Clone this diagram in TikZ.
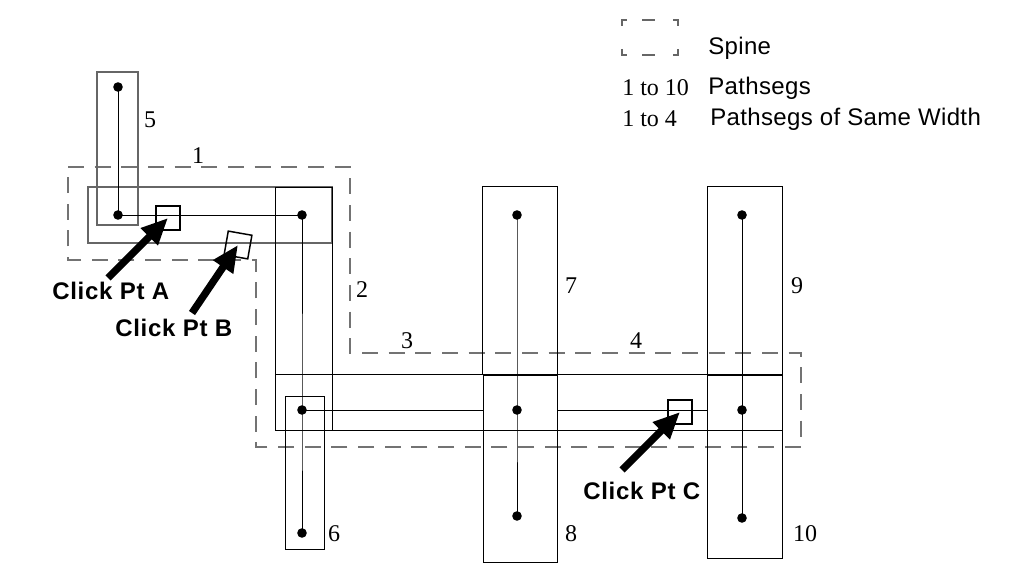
\documentclass[tikz,border=0pt]{standalone}
\usepackage{fontspec}
\setmainfont{Liberation Serif}
\setsansfont{Liberation Sans}
\newfontfamily\clickfont[LetterSpace=3]{Liberation Sans}
\newfontfamily\legfont[LetterSpace=1.5]{Liberation Sans}
\newfontfamily\numfont{Liberation Serif}
\usetikzlibrary{arrows.meta,fit}
\begin{document}
\begin{tikzpicture}[x=0.75pt,y=-0.75pt,
  box/.style={draw=black,line width=0.75pt,inner sep=0pt,outer sep=0pt},
  boxgray/.style={draw=black!60,line width=1pt,inner sep=0pt,outer sep=0pt},
  seg/.style={draw=black,line width=0.75pt},
  dot/.style={circle,fill=black,inner sep=0pt,minimum size=7.2pt},
  num/.style={font=\numfont\fontsize{18}{20}\selectfont,inner sep=0pt},
  spine/.style={draw=black!55,line width=1.1pt,dash pattern=on 12pt off 8pt},
  legdash/.style={draw=black!60,line width=1.1pt},
  clicksq/.style={draw,line width=1.1pt,minimum size=18pt,inner sep=0pt},
  clicktxt/.style={font=\clickfont\bfseries\fontsize{18}{20}\selectfont,inner sep=0pt,anchor=west},
  bigarrow/.style={line width=5.5pt,-{Triangle[length=20pt,width=17pt]}},
  legtxt/.style={font=\legfont\fontsize{18}{20}\selectfont,inner sep=0pt,anchor=west},
  legnum/.style={font=\numfont\fontsize{18}{20}\selectfont,inner sep=0pt,anchor=west}]

\useasboundingbox (0,0) rectangle (1013,574);

% spine
\draw[spine] (68,167) -- (350,167) -- (350,353) -- (801,353) -- (801,447)
  -- (256,447) -- (256,260) -- (68,260) -- cycle;

% pathseg rectangles
\node[boxgray, fit={(97,72) (138,225)}] (r5) {};
\node[boxgray, fit={(88,187) (332,243)}] (r1) {};
\node[box, fit={(275,187) (332,430)}] (r2) {};
\node[box, fit={(275,374) (782,430)}] (r34) {};
\node[box, fit={(285,396) (324,549)}] (r6) {};
\node[box, fit={(482,186) (557,374)}] (r7) {};
\node[box, fit={(483,375) (557,562)}] (r8) {};
\node[box, fit={(707,186) (782,374)}] (r9) {};
\node[box, fit={(707,375) (782,558)}] (r10) {};

% centre points
\node[dot] (p5a) at (118,87) {};
\node[dot] (p5b) at (118,215) {};
\node[dot] (p1b) at (302,215) {};
\node[dot] (p2b) at (302,410) {};
\node[dot] (p6b) at (302,533) {};
\node[dot] (p7a) at (517,215) {};
\node[dot] (p8a) at (517,410) {};
\node[dot] (p8b) at (517,516) {};
\node[dot] (p9a) at (742,215) {};
\node[dot] (p10a) at (742,410) {};
\node[dot] (p10b) at (742,518) {};

% centre lines
\draw[seg] (p5a.center) -- (p5b.center) -- (p1b.center) -- (p2b.center) -- (p6b.center);
\draw[seg] (p2b.center) -- (p2b -| r8.west);
\draw[seg] (p8a -| r8.east) -- (p8a -| r10.west);
\draw[seg] (p7a.center) -- (p8a.center) -- (p8b.center);
\draw[seg] (p9a.center) -- (p10a.center) -- (p10b.center);

% labels
\node[num] (l1) at (198,156) {1};
\node[num] (l2) at (362,290) {2};
\node[num] (l3) at (407,341) {3};
\node[num] (l4) at (636,341) {4};
\node[num] (l5) at (150,120) {5};
\node[num] (l6) at (334,534) {6};
\node[num] (l7) at (571,286) {7};
\node[num] (l8) at (571,534) {8};
\node[num] (l9) at (797,286) {9};
\node[num] (l10) at (805,534) {10};

% click squares
\node[clicksq] (ca) at (168,218) {};
\node[clicksq, rotate=-10] (cb) at (238,245) {};
\node[clicksq] (cc) at (680,412) {};

% click texts and arrows
\node[clicktxt] (ta) at (52,291) {Click Pt A};
\node[clicktxt] (tb) at (115,328) {Click Pt B};
\node[clicktxt] (tc) at (583,491) {Click Pt C};
\coordinate (tailA) at (108,278);
\coordinate (tailB) at (192,313);
\coordinate (tailC) at (622,470);
\draw[bigarrow] (tailA) -- (ca.center);
\draw[bigarrow] (tailB) -- (cb.center);
\draw[bigarrow] (tailC) -- (cc.center);

% legend
\draw[legdash] (622,26) -- (622,20) -- (627,20);
\draw[legdash] (642,20) -- (655,20);
\draw[legdash] (673,20) -- (678,20) -- (678,26);
\draw[legdash] (622,49) -- (622,55) -- (627,55);
\draw[legdash] (642,55) -- (655,55);
\draw[legdash] (673,55) -- (678,55) -- (678,49);
\node[legtxt] (lspine) at (708,48) {Spine};
\node[legnum] (ln1) at (622,88) {1 to 10};
\node[legtxt] (lps) at (708,88) {Pathsegs};
\node[legnum] (ln2) at (622,119) {1 to 4};
\node[legtxt] (lps2) at (710,119) {Pathsegs of Same Width};
\end{tikzpicture}
\end{document}
